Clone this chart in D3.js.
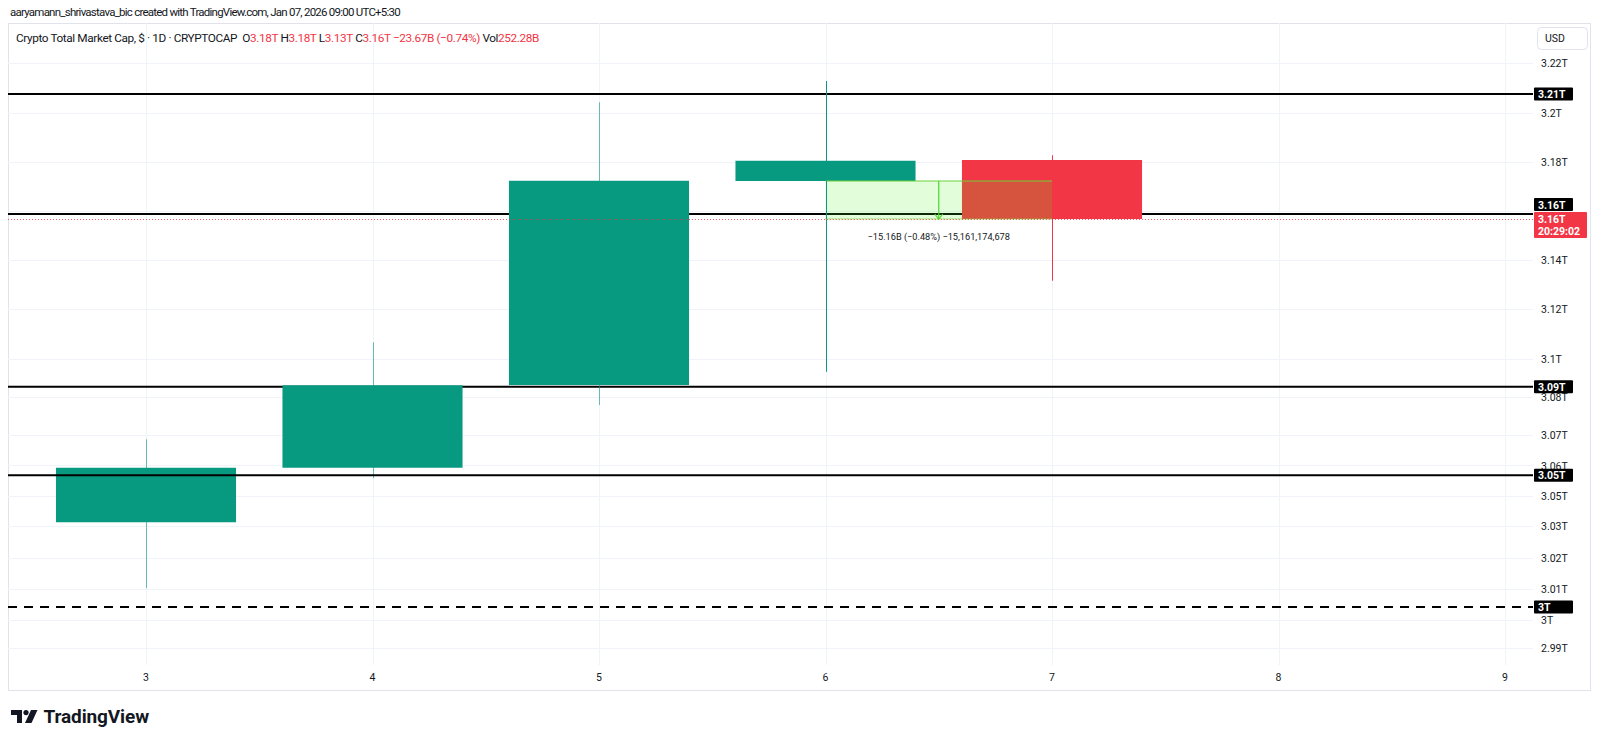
<!DOCTYPE html>
<html><head><meta charset="utf-8">
<script src="https://cdn.jsdelivr.net/npm/d3@7"></script>
<style>html,body{margin:0;padding:0;background:#fff;} svg{display:block;font-family:Roboto,"Liberation Sans",sans-serif;}</style>
</head><body><svg id="c" width="1600" height="743"></svg>
<script>
// ---------- data ----------
const days = [3, 4, 5, 6, 7];
const openVals  = [3.0361, 3.0579, 3.0910, 3.1726, 3.1810];
const highVals  = [3.0693, 3.1081, 3.2041, 3.2126, 3.1829];
const lowVals   = [3.0097, 3.0537, 3.0830, 3.0963, 3.1327];
const closeVals = [3.0579, 3.0909, 3.1727, 3.1807, 3.1574];

const xTickDays = [3, 4, 5, 6, 7, 8, 9];
const priceTickValues = [3.2198, 3.1998, 3.1802, 3.1607, 3.1410, 3.1213, 3.1015, 3.0864, 3.0709, 3.0588, 3.0467, 3.0346, 3.0218, 3.0094, 2.9970, 2.9858];
const priceTickLabels = ["3.22T", "3.2T", "3.18T", "3.16T", "3.14T", "3.12T", "3.1T", "3.08T", "3.07T", "3.06T", "3.05T", "3.03T", "3.02T", "3.01T", "3T", "2.99T"];

const levelValues = [3.2074, 3.1594, 3.0903, 3.0549, 3.0022];
const levelLabels = ["3.21T", "3.16T", "3.09T", "3.05T", "3T"];
const levelDashed = [false, false, false, false, true];

const lastPrice = 3.1574;
const lastPriceLabel = "3.16T";
const countdownLabel = "20:29:02";

const measureDays = [6, 7];
const measurePrices = [3.1726, 3.1574];
const measureText = "\u221215.16B (\u22120.48%) \u221215,161,174,678";

const attribution = "aaryamann_shrivastava_bic created with TradingView.com, Jan 07, 2026 09:00 UTC+5:30";
const headerParts = [
  ["Crypto Total Market Cap, $ \u00b7 1D \u00b7 CRYPTOCAP  ", "dark"],
  ["O", "dark"], ["3.18T", "red"],
  [" H", "dark"], ["3.18T", "red"],
  [" L", "dark"], ["3.13T", "red"],
  [" C", "dark"], ["3.16T", "red"],
  [" \u221223.67B (\u22120.74%)", "red"],
  [" Vol", "dark"], ["252.28B", "red"]
];
const currencyLabel = "USD";

// ---------- layout ----------
const UP = "#089981", DOWN = "#F23645", DARK = "#131722";
const pane = {l: 8, r: 1533, t: 23, b: 665};
const axisR = 1590, axisB = 690;

const svg = d3.select("#c");
svg.append("rect").attr("width", 1600).attr("height", 743).attr("fill", "#fff");

const x = d3.scaleLinear().domain([3, 9]).range([146, 1505]);
const y = d3.scaleLinear().domain([2.975, 3.245]).range([675, 0]);
const bw = (x(4) - x(3)) * 0.795;

function fitWidth(sel, target) {
  const w = sel.node().getComputedTextLength();
  const n = sel.text().length;
  sel.attr("letter-spacing", ((target - w) / n).toFixed(3));
}

svg.append("defs").append("clipPath").attr("id", "pc")
  .append("rect").attr("x", pane.l).attr("y", pane.t).attr("width", pane.r - pane.l).attr("height", pane.b - pane.t);

// attribution
const at = svg.append("text").attr("x", 10).attr("y", 16).attr("font-size", 11.5).attr("fill", DARK).text(attribution);
fitWidth(at, 390);

// outer border
svg.append("rect").attr("x", pane.l + 0.5).attr("y", pane.t + 0.5)
  .attr("width", axisR - pane.l).attr("height", axisB - pane.t)
  .attr("fill", "none").attr("stroke", "#E0E3EB");

const g = svg.append("g").attr("clip-path", "url(#pc)");

// grid
g.selectAll(".hg").data(priceTickValues).join("line")
  .attr("x1", pane.l).attr("x2", pane.r)
  .attr("y1", d => Math.round(y(d)) + 0.5).attr("y2", d => Math.round(y(d)) + 0.5)
  .attr("stroke", "#F0F3FA");
g.selectAll(".vg").data(xTickDays).join("line")
  .attr("x1", d => Math.round(x(d)) + 0.5).attr("x2", d => Math.round(x(d)) + 0.5)
  .attr("y1", pane.t).attr("y2", pane.b)
  .attr("stroke", "#F0F3FA");

const levels = levelValues.map((v, i) => ({v, label: levelLabels[i], dashed: levelDashed[i], i}));
function drawLevel(sel) {
  sel.append("line")
    .attr("x1", pane.l).attr("x2", pane.r)
    .attr("y1", d => y(d.v)).attr("y2", d => y(d.v))
    .attr("stroke", "#000").attr("stroke-width", 2)
    .attr("stroke-dasharray", d => d.dashed ? "9,7" : null);
}
g.selectAll(".lvlA").data(levels.filter(d => d.i < 3)).join("g").call(drawLevel);

// candles
const candles = days.map((d, i) => ({d, o: openVals[i], h: highVals[i], l: lowVals[i], c: closeVals[i]}));
g.selectAll(".wick").data(candles).join("line")
  .attr("x1", d => Math.round(x(d.d)) + 0.5).attr("x2", d => Math.round(x(d.d)) + 0.5)
  .attr("y1", d => y(d.h)).attr("y2", d => y(d.l))
  .attr("stroke", d => d.c >= d.o ? UP : DOWN).attr("stroke-width", 1)
  .attr("stroke-opacity", d => d.d < 6 ? 0.6 : 1);
g.selectAll(".body").data(candles).join("rect")
  .attr("x", d => x(d.d) - bw / 2).attr("width", bw)
  .attr("y", d => y(Math.max(d.o, d.c)))
  .attr("height", d => Math.abs(y(d.o) - y(d.c)))
  .attr("fill", d => d.c >= d.o ? UP : DOWN);

// levels above candles
g.selectAll(".lvlB").data(levels.filter(d => d.i >= 3)).join("g").call(drawLevel);

// current price dotted line
g.append("line").attr("x1", pane.l).attr("x2", pane.r)
  .attr("y1", Math.round(y(lastPrice)) + 0.5).attr("y2", Math.round(y(lastPrice)) + 0.5)
  .attr("stroke", DOWN).attr("stroke-width", 1).attr("stroke-dasharray", "1,2").attr("opacity", 0.8);

// measurement tool
const mx0 = x(measureDays[0]), mx1 = x(measureDays[1]);
const my0 = y(measurePrices[0]), my1 = y(measurePrices[1]);
const mg = g.append("g");
mg.append("rect").attr("x", mx0).attr("y", my0).attr("width", mx1 - mx0).attr("height", my1 - my0)
  .attr("fill", "rgb(66,243,23)").attr("fill-opacity", 0.16);
mg.append("line").attr("x1", mx0).attr("x2", mx1).attr("y1", my0).attr("y2", my0)
  .attr("stroke", "#6FD13A").attr("stroke-width", 1.2);
mg.append("line").attr("x1", mx0).attr("x2", mx1).attr("y1", my1).attr("y2", my1)
  .attr("stroke", "#8BC34A").attr("stroke-width", 1).attr("stroke-dasharray", "2,1");
const mxm = (mx0 + mx1) / 2;
mg.append("line").attr("x1", mxm).attr("x2", mxm).attr("y1", my0).attr("y2", my1)
  .attr("stroke", "#4CD62B").attr("stroke-width", 1.2);
mg.append("path").attr("d", `M${mxm - 4},${my1 - 5}L${mxm},${my1}L${mxm + 4},${my1 - 5}`)
  .attr("fill", "none").attr("stroke", "#4CD62B").attr("stroke-width", 1.2);
g.append("line").attr("x1", Math.round(mx0) + 0.5).attr("x2", Math.round(mx0) + 0.5)
  .attr("y1", my0).attr("y2", my1).attr("stroke", UP);
g.append("line").attr("x1", Math.round(mx1) + 0.5).attr("x2", Math.round(mx1) + 0.5)
  .attr("y1", my0).attr("y2", my1).attr("stroke", DOWN).attr("opacity", 0.6);
svg.append("text").attr("x", mxm).attr("y", my1 + 21).attr("text-anchor", "middle")
  .attr("font-size", 9.2).attr("fill", DARK).text(measureText);

// header
const ht = svg.append("text").attr("x", 16).attr("y", 42).attr("font-size", 11.8);
headerParts.forEach(p => ht.append("tspan").attr("fill", p[1] === "red" ? DOWN : DARK)
  .style("white-space", "pre").text(p[0]));
fitWidth(ht, 523);

// label boxes on price axis
const axX = pane.r + 1;
const redTop = y(lastPrice) - 7;
const boxes = levels.map(d => {
  let cy = y(d.v);
  if (Math.abs(cy - y(lastPrice)) < 20) cy = Math.min(cy, redTop - 7.5);
  return {cy, top: cy - 6.5, bot: cy + 6.5, label: d.label};
});
const redBox = {top: redTop, bot: redTop + 26};

const tickData = priceTickValues.map((v, i) => ({v, label: priceTickLabels[i], yy: y(v)}))
  .filter(t => !boxes.concat([redBox]).some(b => t.yy > b.top - 1.5 && t.yy < b.bot + 1.5));
svg.selectAll(".pt").data(tickData).join("text")
  .attr("x", 1541).attr("y", d => d.yy + 4).attr("font-size", 10.5).attr("fill", DARK).text(d => d.label);

svg.selectAll(".lb").data(boxes).join("g").each(function(b) {
  const s = d3.select(this);
  s.append("rect").attr("x", axX).attr("y", b.top).attr("width", 39).attr("height", 13).attr("rx", 1).attr("fill", "#000");
  s.append("text").attr("x", axX + 4).attr("y", b.cy + 4).attr("font-size", 10.5).attr("font-weight", "bold")
    .attr("fill", "#fff").text(b.label);
});
svg.append("rect").attr("x", axX).attr("y", redBox.top).attr("width", 53).attr("height", 26).attr("rx", 1).attr("fill", DOWN);
svg.append("text").attr("x", axX + 4).attr("y", redBox.top + 11).attr("font-size", 10.5).attr("font-weight", "bold").attr("fill", "#fff").text(lastPriceLabel);
svg.append("text").attr("x", axX + 4).attr("y", redBox.top + 23).attr("font-size", 10.5).attr("font-weight", "bold").attr("fill", "#fff").text(countdownLabel);

// USD box
svg.append("rect").attr("x", 1537.5).attr("y", 27.5).attr("width", 50).attr("height", 22).attr("rx", 4)
  .attr("fill", "#fff").attr("stroke", "#E0E3EB");
svg.append("text").attr("x", 1545).attr("y", 42).attr("font-size", 10.5).attr("fill", DARK).text(currencyLabel);

// x-axis labels
svg.selectAll(".xt").data(xTickDays).join("text")
  .attr("x", d => x(d)).attr("y", 681).attr("text-anchor", "middle")
  .attr("font-size", 10.5).attr("fill", DARK).text(d => d);

// TradingView logo
const lg = svg.append("g").attr("transform", "translate(11,710)");
lg.append("path").attr("d", "M0,0H11V13H6V5H0Z").attr("fill", DARK);
lg.append("circle").attr("cx", 15).attr("cy", 2.6).attr("r", 2.6).attr("fill", DARK);
lg.append("path").attr("d", "M20,0H26.5L20.5,13H14Z").attr("fill", DARK);
const lt = svg.append("text").attr("x", 43.5).attr("y", 723).attr("font-size", 19).attr("font-weight", "bold")
  .attr("fill", DARK).text("TradingView");
fitWidth(lt, 105.5);
</script></body></html>
